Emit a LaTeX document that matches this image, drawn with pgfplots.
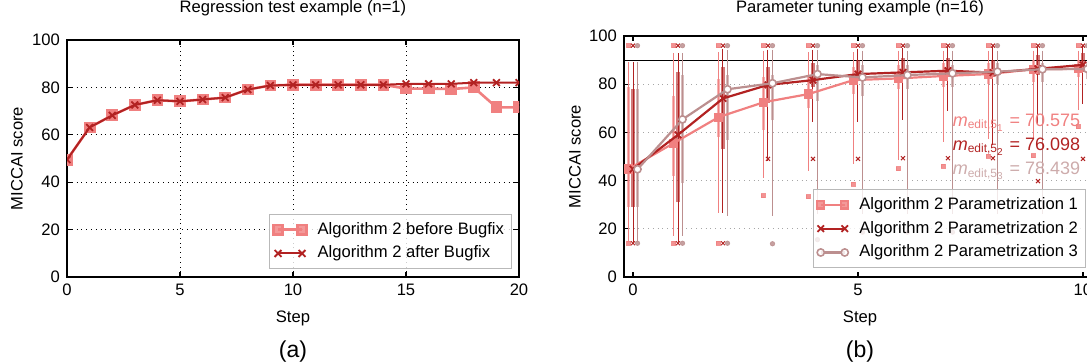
\documentclass[border=0pt]{standalone}
\usepackage{fontspec}
\setmainfont{Liberation Sans}
\usepackage{pgfplots}
\usepackage{pgfplotstable}
\pgfplotsset{compat=1.18}
\definecolor{lc}{HTML}{F08080}
\definecolor{fb}{HTML}{B22222}
\definecolor{rb}{HTML}{BC8F8F}
\newcommand\fs{\fontsize{8.3}{10}\selectfont}
% boxplot summaries: position, lower whisker, lower quartile, upper quartile, upper whisker, top outlier, bottom outlier
\pgfplotstableread{
x lw lq uq uw ot ob
-0.1 15.3 29 79 88.4 96 14
0.9 18 42 75 92 96 14
1.9 27.3 58 82 92.4 96 14
2.9 42 61 83 93 96 33.8
3.9 44.8 70 84 92.4 96 33.3
4.9 48 76 87 92.4 96 38.6
5.9 49.6 78 88 93 96 45
6.9 57 79 89 93 96 46
7.9 58 80 89 93 96 50.2
8.9 58 81 90 93 96 50.3
9.9 70.4 83 90 93 96 62.3
}\sA
\pgfplotstableread{
x lw lq uq uw ot ob
0 15.5 29 78 88.4 96 14
1 15.5 31 85 92 96 14
2 27.3 53 87 93.8 96 14
3 49 72 87 93.4 96 49
4 65.2 79 89 93.4 96 49
5 65.2 82 90 93.8 96 49
6 66.1 82 91 94 96 49.3
7 69.7 83 91 94.5 96 49.3
8 55.5 83 90 94.5 96 49.3
9 64.5 84 92 94.5 96 39.8
10 72.7 85 93 95 96 49
}\sB
\pgfplotstableread{
x lw lq uq uw ot ob
0.1 15.5 29 78 88.4 96 14
1.1 18 39 84 92 96 14
2.1 26.2 57 84 93.2 96 14
3.1 26.2 65 84 93.4 96 13.8
4.1 27 73 88 93.4 96 15.5
5.1 27 75 88 93 96 18.6
6.1 27 78 88 93 96 18.6
7.1 27 79 88 93 96 18.6
8.1 27 80 89 93 96 18.6
9.1 27 81 89 93 96 nan
10.1 27 82 89 93 96 nan
}\sC
\newcommand\whisk[2]{% table, colour
  \addplot[draw=none, mark=none, forget plot, error bars/.cd, y dir=both, y explicit,
    error bar style={draw=#2, line width=0.5pt}, error mark options={draw=#2, mark size=1.1pt, line width=0.5pt}]
    table[x=x, y=lw, y error plus expr=\thisrow{uw}-\thisrow{lw}, y error minus expr=0] {#1};
  \addplot[draw=none, mark=none, forget plot, error bars/.cd, y dir=plus, y explicit, error mark=none,
    error bar style={draw=#2, line width=1.7pt, opacity=0.6}]
    table[x=x, y=lq, y error plus expr=\thisrow{uq}-\thisrow{lq}] {#1};}
\pgfplotsset{
  common/.style={scale only axis, anchor=south west, ymin=0, ymax=100, ytick={0,20,...,100},
    font=\fs, tick label style={font=\fs}, /pgf/number format/assume math mode=true,
    axis line style={line width=0.8pt}, major tick length=2.5pt, tick style={black, line width=0.6pt},
    legend cell align=left,
    legend image code/.code={\draw[##1] plot coordinates {(0cm,0cm) (12pt,0cm)};},
    legend style={font=\fs, draw=gray!55, fill=white, fill opacity=0.8, text opacity=1, at={(1,0)}, anchor=south east, row sep=0.4pt, inner sep=1.8pt},
    clip marker paths=true},
}
\begin{document}
\begin{tikzpicture}
% ---------------- (a) ----------------
\begin{axis}[common, name=a, at={(33.5pt,43.5pt)}, width=226pt, height=118.5pt,
  xmin=0, xmax=20, xtick={0,5,...,20},
  xlabel={Step}, ylabel={MICCAI score},
  xmajorgrids, ymajorgrids, grid style={black, dotted, line width=0.5pt},
  title={Regression test example (n=1)}, title style={at={(axis description cs:0.5,1.084)}, anchor=center, font=\fs},
  xlabel style={at={(axis description cs:0.5,-0.173)}, anchor=center},
  ylabel style={at={(axis description cs:-0.111,0.5)}, anchor=center},
  legend style={xshift=-3.5pt, yshift=4pt},
  extra description/.code={\node[font=\fontsize{11.5}{13}\selectfont] at (axis description cs:0.5,-0.316) {(a)};}]
\addplot[color=lc, line width=1.3pt, mark=square*, mark size=2.3pt, mark options={fill=lc, draw=lc, solid}] coordinates {
(0,49.5)(1,63.1)(2,68.2)(3,72.6)(4,74.6)(5,74.1)(6,74.9)(7,75.7)(8,79.1)(9,80.8)(10,81.1)
(11,81.1)(12,81.1)(13,81.1)(14,81.1)(15,79.5)(16,79.5)(17,79.3)(18,80.0)(19,71.6)(20,71.6)};
\addlegendentry{\hspace{3.5pt}Algorithm 2 before Bugfix}
\addplot[color=fb, line width=1pt, mark=x, mark size=2.4pt, mark options={draw=fb, line width=0.9pt, solid}] coordinates {
(0,49.5)(1,63.1)(2,68.2)(3,72.6)(4,74.6)(5,74.1)(6,74.9)(7,75.7)(8,79.1)(9,80.8)(10,81.1)
(11,81.1)(12,81.1)(13,81.1)(14,81.1)(15,81.5)(16,81.5)(17,81.5)(18,82.0)(19,82.0)(20,82.0)};
\addlegendentry{\hspace{3.5pt}Algorithm 2 after Bugfix}
\end{axis}
% ---------------- (b) ----------------
\begin{axis}[common, name=b, at={(312pt,43.5pt)}, width=236pt, height=120.5pt,
  xmin=-0.2, xmax=10.29, xtick={0,5,10},
  xlabel={Step}, ylabel={MICCAI score},
  ymajorgrids, grid style={gray!70, dotted, line width=0.5pt},
  title={Parameter tuning example (n=16)}, title style={at={(axis description cs:0.5,1.0635)}, anchor=center, font=\fs},
  xlabel style={at={(axis description cs:0.5,-0.170)}, anchor=center},
  ylabel style={at={(axis description cs:-0.104,0.5)}, anchor=center},
  extra description/.code={\node[font=\fontsize{11.5}{13}\selectfont] at (axis description cs:0.5,-0.311) {(b)};}]
\addplot[black, line width=0.5pt, forget plot] coordinates {(-1,90)(11,90)};
\whisk{\sA}{lc}
\whisk{\sB}{fb}
\whisk{\sC}{rb}
% outliers
\addplot[only marks, forget plot, mark=square*, mark size=1pt, mark options={fill=lc, draw=lc, opacity=0.85}] table[x=x, y=ot] {\sA};
\addplot[only marks, forget plot, mark=square*, mark size=1pt, mark options={fill=lc, draw=lc, opacity=0.85}] table[x=x, y=ob] {\sA};
\addplot[only marks, forget plot, mark=x, mark size=1.4pt, mark options={draw=fb, line width=0.5pt}] table[x=x, y=ot] {\sB};
\addplot[only marks, forget plot, mark=x, mark size=1.4pt, mark options={draw=fb, line width=0.5pt}] table[x=x, y=ob] {\sB};
\addplot[only marks, forget plot, mark=*, mark size=1.1pt, mark options={fill=rb, draw=rb, opacity=0.85}] table[x=x, y=ot] {\sC};
\addplot[only marks, forget plot, mark=*, mark size=1.1pt, mark options={fill=rb, draw=rb, opacity=0.85}] table[x=x, y=ob] {\sC};
% mean lines
\addplot[forget plot, color=lc, line width=1.1pt, mark=square*, mark size=1.8pt, mark options={fill=lc, draw=lc, solid}] coordinates {
(-0.1,44.8)(0.9,55.5)(1.9,66.3)(2.9,72.5)(3.9,75.9)(4.9,81.7)(5.9,82.4)(6.9,83.4)(7.9,84.2)(8.9,86.2)(9.9,86.4)};
\addplot[forget plot, color=fb, line width=1.1pt, mark=x, mark size=2.3pt, mark options={draw=fb, line width=0.9pt, solid}] coordinates {
(0,44.8)(1,59.0)(2,74.1)(3,79.7)(4,81.7)(5,84.2)(6,84.9)(7,85.6)(8,84.8)(9,86.4)(10,88.0)};
\addplot[forget plot, color=rb, line width=1.1pt, mark=*, mark size=1.8pt, mark options={fill=white, draw=rb, line width=0.8pt, solid}] coordinates {
(0.1,44.7)(1.1,65.4)(2.1,77.9)(3.1,80.4)(4.1,84.2)(5.1,82.8)(6.1,83.8)(7.1,84.5)(8.1,85.2)(9.1,86.2)(10.1,86.3)};
\node[anchor=west, text=lc, font=\fontsize{9}{10}\selectfont] at (axis cs:6.95,64) {\textit{m}\textsubscript{edit,5\textsubscript{1}} = 70.575};
\node[anchor=west, text=fb, font=\fontsize{9}{10}\selectfont] at (axis cs:6.95,54) {\textit{m}\textsubscript{edit,5\textsubscript{2}} = 76.098};
\node[anchor=west, text=rb!75, font=\fontsize{9}{10}\selectfont] at (axis cs:6.95,44) {\textit{m}\textsubscript{edit,5\textsubscript{3}} = 78.439};
\end{axis}
% legend of (b), drawn by an overlay axis with the same frame
\begin{axis}[common, at={(312pt,43.5pt)}, width=236pt, height=120.5pt,
  xmin=-0.2, xmax=10.29, hide axis,
  legend style={xshift=-5pt, yshift=4.5pt}]
\addlegendimage{color=lc, line width=1.1pt, mark=square*, mark size=1.8pt, mark options={fill=lc, draw=lc, solid}}
\addlegendentry{\hspace{3.5pt}Algorithm 2 Parametrization 1}
\addlegendimage{color=fb, line width=1.1pt, mark=x, mark size=2.3pt, mark options={draw=fb, line width=0.9pt, solid}}
\addlegendentry{\hspace{3.5pt}Algorithm 2 Parametrization 2}
\addlegendimage{color=rb, line width=1.1pt, mark=*, mark size=1.8pt, mark options={fill=white, draw=rb, line width=0.8pt, solid}}
\addlegendentry{\hspace{3.5pt}Algorithm 2 Parametrization 3}
\end{axis}
\pgfresetboundingbox
\path[use as bounding box] (0,0) rectangle (543.5pt,182pt);
\end{tikzpicture}
\end{document}
